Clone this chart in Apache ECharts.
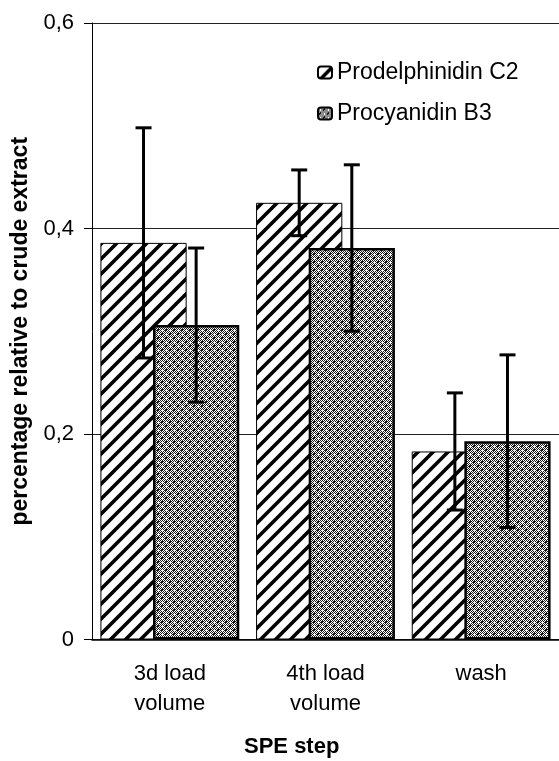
<!DOCTYPE html>
<html>
<head>
<meta charset="utf-8">
<script src="https://cdn.jsdelivr.net/npm/echarts@6/dist/echarts.min.js"></script>
<style>html,body{margin:0;padding:0;background:#fff;}#c{width:559px;height:761px;}</style>
</head>
<body>
<div id="c"></div>
<script>
var categories = ['3d load\nvolume', '4th load\nvolume', 'wash'];
var seriesNames = ['Prodelphinidin C2', 'Procyanidin B3'];
var prodelphinidin = [0.386, 0.425, 0.183];
var prodelphinidinErr = [0.112, 0.032, 0.057];
var procyanidin = [0.306, 0.381, 0.193];
var procyanidinErr = [0.075, 0.081, 0.084];
var yTicks = [0, 0.2, 0.4, 0.6];

var FONT = '"Liberation Sans", Arial, sans-serif';

function hatchCanvas() {
  var s = 15, c = document.createElement('canvas');
  c.width = s; c.height = s;
  var g = c.getContext('2d');
  g.fillStyle = '#fff'; g.fillRect(0, 0, s, s);
  g.strokeStyle = '#000'; g.lineWidth = 3.6; g.lineCap = 'square';
  for (var k = -1; k <= 1; k++) {
    g.beginPath();
    g.moveTo(k * s - 2, s + 2);
    g.lineTo(k * s + s + 2, -2);
    g.stroke();
  }
  return c;
}
function dotCanvas() {
  var s = 8, c = document.createElement('canvas');
  c.width = s; c.height = s;
  var g = c.getContext('2d');
  var img = g.createImageData(s, s);
  for (var y = 0; y < s; y++) {
    for (var x = 0; x < s; x++) {
      var black = ((x + y) % 2 === 0);
      var inPlus = function (cx, cy) {
        var dx = Math.abs(x - cx), dy = Math.abs(y - cy);
        return (dx === 0 && dy <= 1) || (dy === 0 && dx <= 1);
      };
      var inBlock = function (cx, cy) {
        return (x === cx || x === cx + 1) && (y === cy || y === cy + 1);
      };
      if (inBlock(5, 1) || inBlock(1, 5)) black = true;
      if (inPlus(2, 2) || inPlus(6, 6)) black = false;
      var v = black ? 25 : 255;
      var i = (y * s + x) * 4;
      img.data[i] = v; img.data[i + 1] = v; img.data[i + 2] = v; img.data[i + 3] = 255;
    }
  }
  g.putImageData(img, 0, 0);
  return c;
}

var BAR_W = 0.554, BAR_GAP = -0.39;

function errSeries(idx, means, errs) {
  var data = means.map(function (m, i) { return [i, m - errs[i], m + errs[i]]; });
  return {
    type: 'custom',
    z: 10,
    silent: true,
    data: data,
    renderItem: function (params, api) {
      var band = api.size([1, 0])[0];
      var bw = band * BAR_W;
      var off = bw * (1 + BAR_GAP) / 2 * (idx === 0 ? -1 : 1);
      var lo = api.coord([api.value(0), api.value(1)]);
      var hi = api.coord([api.value(0), api.value(2)]);
      var x = lo[0] + off;
      var cap = 8;
      var st = { stroke: '#000', lineWidth: 3 };
      return {
        type: 'group',
        children: [
          { type: 'line', shape: { x1: x, y1: lo[1], x2: x, y2: hi[1] }, style: st },
          { type: 'line', shape: { x1: x - cap, y1: hi[1], x2: x + cap, y2: hi[1] }, style: st },
          { type: 'line', shape: { x1: x - cap, y1: lo[1], x2: x + cap, y2: lo[1] }, style: st }
        ]
      };
    }
  };
}

var chart = echarts.init(document.getElementById('c'), null, { renderer: 'canvas' });
var option = {
  animation: false,
  backgroundColor: '#fff',
  textStyle: { fontFamily: FONT },
  grid: { left: 92, right: -4, top: 23, bottom: 121.5, containLabel: false },
  legend: {
    orient: 'vertical',
    left: 312, top: 56,
    itemWidth: 14, itemHeight: 12, itemGap: 18,
    textStyle: { fontSize: 23, color: '#000', fontFamily: FONT },
    data: seriesNames
  },
  xAxis: {
    type: 'category',
    data: categories,
    axisLine: { lineStyle: { color: '#000', width: 1.5 } },
    axisTick: { show: false },
    axisLabel: { fontSize: 22, color: '#000', lineHeight: 30, margin: 19, fontFamily: FONT }
  },
  yAxis: {
    type: 'value',
    min: 0, max: 0.6, interval: 0.2,
    axisLine: { show: true, lineStyle: { color: '#000', width: 1 } },
    axisTick: { show: true, length: 8, lineStyle: { color: '#000' } },
    splitLine: { show: true, lineStyle: { color: '#222', width: 1 } },
    axisLabel: {
      fontSize: 22, color: '#000', margin: 18, fontFamily: FONT,
      formatter: function (v) {
        var t = yTicks.reduce(function (a, b) { return Math.abs(b - v) < Math.abs(a - v) ? b : a; });
        return String(t).replace('.', ',');
      }
    },
    name: 'percentage relative to crude extract',
    nameLocation: 'middle',
    nameGap: 47,
    nameTextStyle: { fontSize: 23, fontWeight: 'bold', color: '#000', fontFamily: FONT }
  },
  graphic: [{
    type: 'text',
    left: 292 - 48, top: 736,
    style: { text: 'SPE step', font: 'bold 22px ' + FONT, fill: '#000' }
  }],
  series: [
    {
      name: seriesNames[0], type: 'bar', z: 2,
      barWidth: (BAR_W * 100) + '%', barGap: (BAR_GAP * 100) + '%',
      data: prodelphinidin,
      itemStyle: { color: { image: hatchCanvas(), repeat: 'repeat' }, borderColor: '#000', borderWidth: 1 }
    },
    {
      name: seriesNames[1], type: 'bar', z: 3,
      barWidth: (BAR_W * 100) + '%', barGap: (BAR_GAP * 100) + '%',
      data: procyanidin,
      itemStyle: { color: { image: dotCanvas(), repeat: 'repeat' }, borderColor: '#000', borderWidth: 2.5 }
    },
    errSeries(0, prodelphinidin, prodelphinidinErr),
    errSeries(1, procyanidin, procyanidinErr)
  ]
};
chart.setOption(option);
</script>
</body>
</html>
